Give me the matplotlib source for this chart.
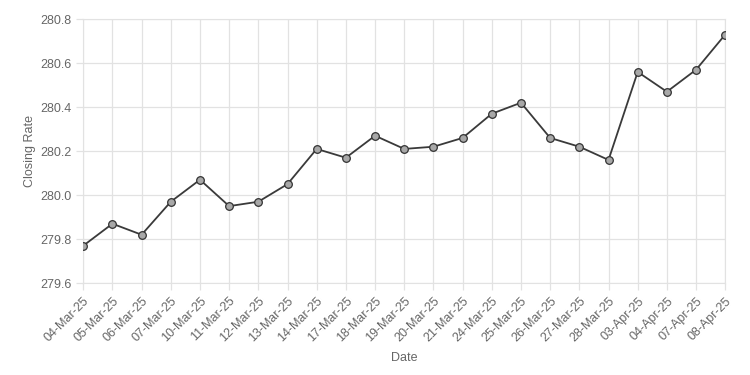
import matplotlib.pyplot as plt

plt.rcParams['font.family'] = ['Liberation Sans', 'DejaVu Sans']

dates = ['04-Mar-25', '05-Mar-25', '06-Mar-25', '07-Mar-25', '10-Mar-25',
         '11-Mar-25', '12-Mar-25', '13-Mar-25', '14-Mar-25', '17-Mar-25',
         '18-Mar-25', '19-Mar-25', '20-Mar-25', '21-Mar-25', '24-Mar-25',
         '25-Mar-25', '26-Mar-25', '27-Mar-25', '28-Mar-25', '03-Apr-25',
         '04-Apr-25', '07-Apr-25', '08-Apr-25']
rates = [279.77, 279.87, 279.82, 279.97, 280.07,
         279.95, 279.97, 280.05, 280.21, 280.17,
         280.27, 280.21, 280.22, 280.26, 280.37,
         280.42, 280.26, 280.22, 280.16, 280.56,
         280.47, 280.57, 280.73]
y_ticks = [279.6, 279.8, 280.0, 280.2, 280.4, 280.6, 280.8]

text_color = '#666666'
grid_color = '#e2e2e2'

fig = plt.figure(figsize=(7.5, 3.75), dpi=100)
ax = fig.add_axes([0.111, 0.245, 0.856, 0.704])

x = range(len(dates))
ax.plot(x, rates, color='#3a3a3a', linewidth=1.3, marker='o', markersize=5.5,
        markerfacecolor='#a8a8a8', markeredgecolor='#333333', markeredgewidth=0.9,
        zorder=3)

ax.set_xlim(0, len(dates) - 1)
ax.set_ylim(279.6, 280.8)
ax.set_xticks(list(x))
ax.set_xticklabels(dates, rotation=45, ha='right', rotation_mode='anchor')
ax.set_yticks(y_ticks)
ax.set_yticklabels([f'{v:.1f}' for v in y_ticks])

ax.grid(True, color=grid_color, linewidth=0.9)
ax.set_axisbelow(True)
for s in ax.spines.values():
    s.set_color(grid_color)
ax.tick_params(axis='both', colors=grid_color, labelcolor=text_color,
               labelsize=9, length=5, width=0.9)

ax.set_xlabel('Date', color=text_color, fontsize=9, labelpad=6)
ax.set_ylabel('Closing Rate', color=text_color, fontsize=9, labelpad=3)

fig.savefig('out.png', dpi=100)
